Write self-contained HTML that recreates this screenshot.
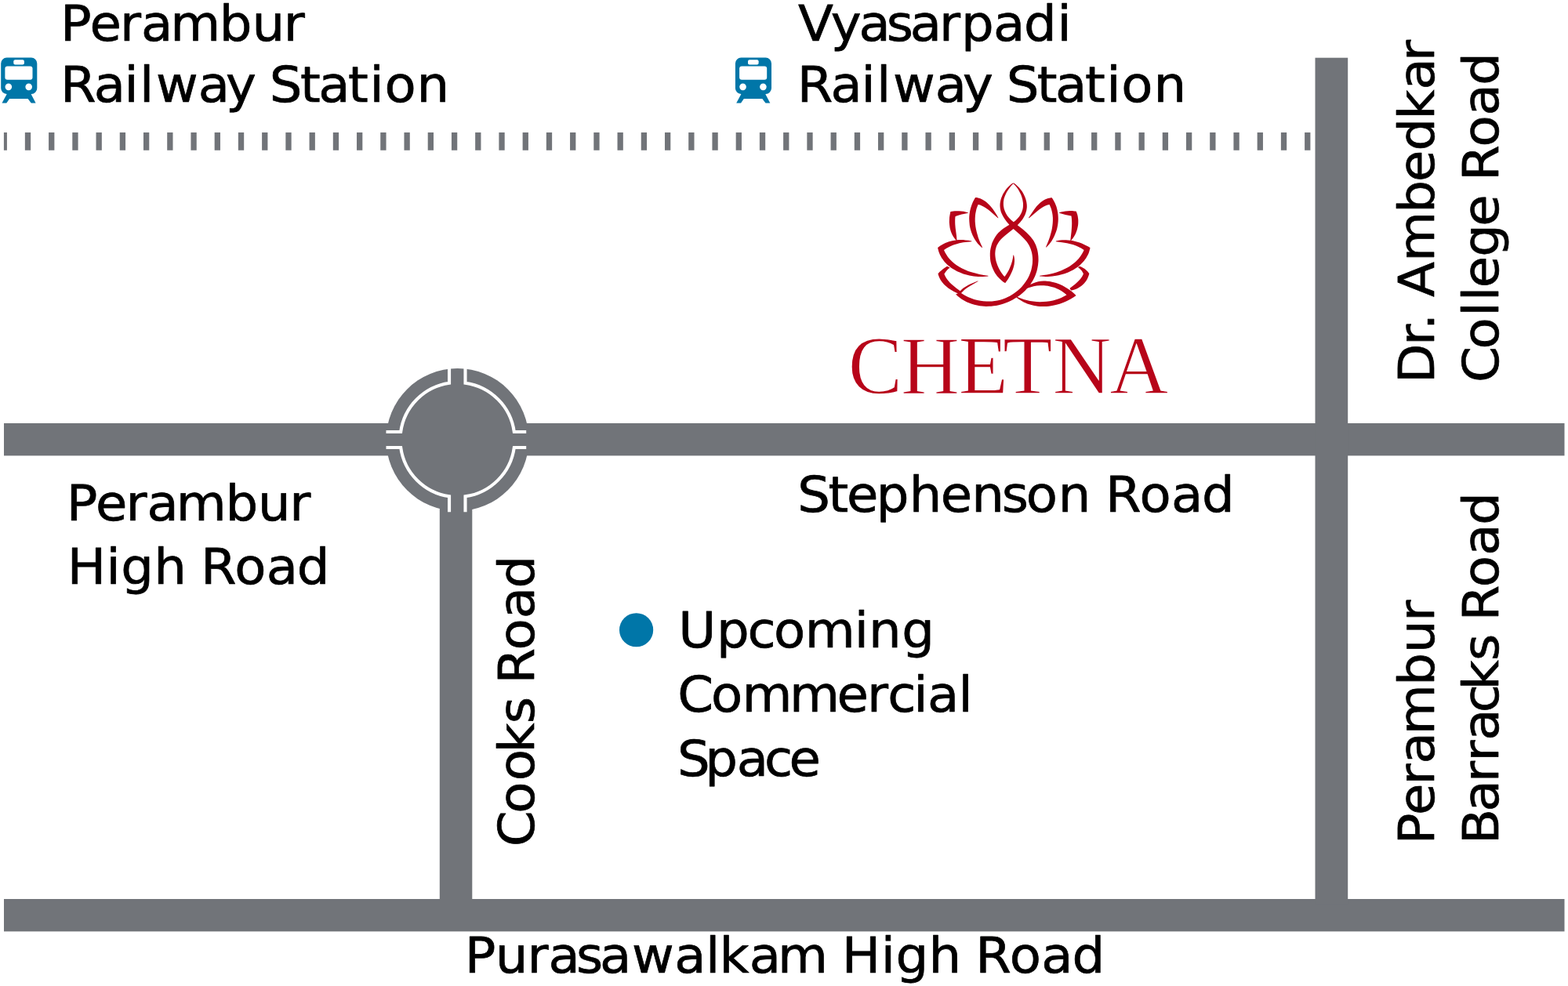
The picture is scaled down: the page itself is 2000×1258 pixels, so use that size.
<!DOCTYPE html>
<html lang="en">
<head>
<meta charset="utf-8">
<title>Chetna location map</title>
<style>
html,body{margin:0;padding:0;background:#fff}
body{width:2000px;height:1258px;overflow:hidden}
svg{display:block}
</style>
</head>
<body>
<svg width="2000" height="1258" viewBox="0 0 2000 1258">
<rect width="2000" height="1258" fill="#fff"/>
<g fill="#717479">
<rect x="5" y="540" width="1990.5" height="41.4"/>
<rect x="5" y="1147" width="1990.5" height="41.4"/>
<rect x="1677.5" y="73.7" width="41.7" height="1080"/>
<rect x="560.8" y="600" width="41.5" height="550"/>
<circle cx="583.5" cy="561" r="91"/>
<path d="M4.9 169H8.92V191.8H4.9ZM31.85 169H39.15V191.8H31.85ZM62.08 169H69.38V191.8H62.08ZM92.3 169H99.6V191.8H92.3ZM122.53 169H129.83V191.8H122.53ZM152.76 169H160.06V191.8H152.76ZM182.99 169H190.29V191.8H182.99ZM213.21 169H220.51V191.8H213.21ZM243.44 169H250.74V191.8H243.44ZM273.67 169H280.97V191.8H273.67ZM303.89 169H311.19V191.8H303.89ZM334.12 169H341.42V191.8H334.12ZM364.35 169H371.65V191.8H364.35ZM394.57 169H401.87V191.8H394.57ZM424.8 169H432.1V191.8H424.8ZM455.03 169H462.33V191.8H455.03ZM485.25 169H492.55V191.8H485.25ZM515.48 169H522.78V191.8H515.48ZM545.71 169H553.01V191.8H545.71ZM575.94 169H583.24V191.8H575.94ZM606.16 169H613.46V191.8H606.16ZM636.39 169H643.69V191.8H636.39ZM666.62 169H673.92V191.8H666.62ZM696.84 169H704.14V191.8H696.84ZM727.07 169H734.37V191.8H727.07ZM757.3 169H764.6V191.8H757.3ZM787.52 169H794.82V191.8H787.52ZM817.75 169H825.05V191.8H817.75ZM847.98 169H855.28V191.8H847.98ZM878.21 169H885.51V191.8H878.21ZM908.43 169H915.73V191.8H908.43ZM938.66 169H945.96V191.8H938.66ZM968.89 169H976.19V191.8H968.89ZM999.11 169H1006.41V191.8H999.11ZM1029.34 169H1036.64V191.8H1029.34ZM1059.57 169H1066.87V191.8H1059.57ZM1089.79 169H1097.09V191.8H1089.79ZM1120.02 169H1127.32V191.8H1120.02ZM1150.25 169H1157.55V191.8H1150.25ZM1180.48 169H1187.78V191.8H1180.48ZM1210.7 169H1218V191.8H1210.7ZM1240.93 169H1248.23V191.8H1240.93ZM1271.16 169H1278.46V191.8H1271.16ZM1301.38 169H1308.68V191.8H1301.38ZM1331.61 169H1338.91V191.8H1331.61ZM1361.84 169H1369.14V191.8H1361.84ZM1392.07 169H1399.37V191.8H1392.07ZM1422.29 169H1429.59V191.8H1422.29ZM1452.52 169H1459.82V191.8H1452.52ZM1482.75 169H1490.05V191.8H1482.75ZM1512.97 169H1520.27V191.8H1512.97ZM1543.2 169H1550.5V191.8H1543.2ZM1573.43 169H1580.73V191.8H1573.43ZM1603.65 169H1610.95V191.8H1603.65ZM1633.88 169H1641.18V191.8H1633.88ZM1664.11 169H1671.41V191.8H1664.11Z"/>
</g>
<path d="M573.05 468.5V488.75A73.0 73.0 0 0 0 511.19 551H492.5M593.5 468.5V488.69A73.0 73.0 0 0 1 655.81 551H671.2M573.05 653.2V633.25A73.0 73.0 0 0 1 511.19 571H492.5M593.5 653.2V633.31A73.0 73.0 0 0 0 655.81 571H671.2" fill="none" stroke="#fff" stroke-width="4.1" stroke-linejoin="miter" stroke-miterlimit="10"/>
<g transform="translate(0 0)"><path fill="#0076a8" d="M8.6 73.6H39.9A7.4 7.4 0 0 1 47.3 81V112.6A7.4 7.4 0 0 1 39.9 120H39.6L45.6 131.4H39.8L35.6 125.9H12.1L8.3 131.4H2.5L8.7 120H8.6A7.4 7.4 0 0 1 1.2 112.6V81A7.4 7.4 0 0 1 8.6 73.6Z"/><g fill="#fff"><rect x="17.3" y="76.3" width="13.6" height="6.3" rx="2" ry="2"/><rect x="6.4" y="84.4" width="35.1" height="17.3" rx="3" ry="3"/><circle cx="10.85" cy="110.85" r="4.3"/><circle cx="36.7" cy="110.85" r="4.3"/></g></g>
<g transform="translate(936.7 0)"><path fill="#0076a8" d="M8.6 73.6H39.9A7.4 7.4 0 0 1 47.3 81V112.6A7.4 7.4 0 0 1 39.9 120H39.6L45.6 131.4H39.8L35.6 125.9H12.1L8.3 131.4H2.5L8.7 120H8.6A7.4 7.4 0 0 1 1.2 112.6V81A7.4 7.4 0 0 1 8.6 73.6Z"/><g fill="#fff"><rect x="17.3" y="76.3" width="13.6" height="6.3" rx="2" ry="2"/><rect x="6.4" y="84.4" width="35.1" height="17.3" rx="3" ry="3"/><circle cx="10.85" cy="110.85" r="4.3"/><circle cx="36.7" cy="110.85" r="4.3"/></g></g>
<circle cx="811.6" cy="803.75" r="21.6" fill="#0076a8"/>
<path fill="#b70419" fill-rule="evenodd" d="M1365.3 306.7L1362.5 306.4L1359.6 306.2L1356.8 306.2L1354.7 306.3L1351.9 306.6L1349.1 307.1L1347.0 307.6L1346.8 307.7L1346.8 307.9L1346.9 308.2L1347.1 308.2L1354.7 309.2L1361.0 310.3L1365.1 311.2L1369.1 312.3L1373.1 313.7L1376.2 315.2L1379.3 316.8L1381.1 317.9L1382.6 319.0L1381.2 322.0L1379.4 325.0L1377.9 327.3L1375.8 330.0L1373.9 332.0L1371.9 334.0L1369.8 335.8L1367.1 337.8L1364.8 339.4L1361.8 341.2L1359.3 342.5L1356.2 344.1L1353.6 345.2L1350.2 346.4L1347.5 347.4L1344.1 348.4L1340.0 349.4L1335.2 350.5L1331.1 351.1L1326.3 351.8L1326.1 352.0L1326.1 352.2L1326.2 352.4L1326.4 352.4L1327.7 352.6L1331.1 352.8L1333.8 352.9L1336.6 352.9L1339.4 352.7L1342.2 352.5L1347.2 351.8L1350.1 351.2L1352.9 350.6L1357.7 349.2L1362.4 347.4L1367.0 345.3L1369.5 343.9L1371.3 342.8L1374.8 340.4L1376.9 338.7L1378.5 337.3L1381.4 334.3L1382.8 332.8L1384.0 331.1L1385.2 329.4L1386.3 327.6L1387.3 325.8L1388.2 323.9L1389.0 321.9L1389.6 319.8L1390.2 317.7L1390.5 316.1L1390.4 315.9L1388.0 314.5L1384.8 312.9L1382.3 311.7L1379.7 310.6L1377.0 309.6L1374.3 308.7L1371.5 307.9L1368.8 307.3L1366.1 306.8L1367.7 305.0L1369.3 302.7L1370.4 300.9L1371.8 298.4L1372.6 296.4L1373.6 293.7L1374.2 291.6L1374.8 288.7L1375.2 285.9L1375.3 283.7L1375.3 280.8L1375.1 278.7L1374.7 275.9L1374.2 273.8L1373.5 271.7L1372.7 269.7L1372.4 269.6L1371.0 269.4L1367.4 269.1L1364.6 269.1L1361.7 269.3L1358.9 269.6L1356.1 270.0L1353.3 270.6L1351.1 271.2L1351.0 271.4L1351.0 271.7L1351.9 272.0L1358.9 273.9L1366.5 275.5L1366.9 278.8L1367.1 281.6L1367.2 285.1L1367.1 288.6L1366.6 295.6ZM1387.4 346.6L1385.8 345.0L1383.6 343.1L1381.8 341.9L1379.2 340.5L1377.0 339.7L1376.8 339.7L1375.2 341.0L1375.2 341.2L1375.3 341.5L1376.5 342.3L1377.6 343.2L1378.6 344.2L1379.6 345.3L1380.7 347.0L1381.4 348.3L1381.9 349.5L1380.7 351.9L1379.6 353.7L1378.0 356.0L1376.1 358.1L1374.1 360.1L1371.4 362.5L1364.6 367.8L1364.6 368.0L1364.6 368.2L1366.2 370.4L1366.5 370.5L1367.9 370.3L1370.6 369.5L1372.7 368.7L1375.2 367.5L1377.1 366.3L1379.4 364.7L1381.1 363.3L1383.1 361.2L1384.5 359.5L1385.3 358.4L1386.8 355.9L1388.0 353.3L1389.0 350.6L1389.3 349.2L1389.3 349.0ZM1197.0 351.3L1198.1 354.0L1198.7 355.3L1199.7 357.2L1201.7 360.1L1204.0 362.7L1205.6 364.2L1207.7 366.1L1209.4 367.4L1211.7 369.0L1214.2 370.5L1216.7 371.9L1221.9 374.5L1219.4 375.2L1219.2 375.4L1219.2 375.6L1221.5 377.7L1224.4 380.0L1226.7 381.7L1229.8 383.5L1232.9 385.2L1236.1 386.6L1239.4 387.8L1242.8 388.8L1246.2 389.6L1249.6 390.2L1252.4 390.6L1255.1 390.8L1257.9 390.9L1261.4 390.8L1264.2 390.7L1267.7 390.3L1270.5 389.9L1273.9 389.2L1276.7 388.5L1280.0 387.5L1282.7 386.5L1286.0 385.2L1289.2 383.8L1291.7 382.5L1294.1 381.1L1296.7 379.6L1298.4 380.9L1300.8 382.6L1303.2 384.0L1305.7 385.4L1307.6 386.3L1310.2 387.4L1312.8 388.3L1315.5 389.1L1318.2 389.8L1321.0 390.3L1323.7 390.7L1326.5 390.9L1329.3 391.0L1332.1 391.0L1335.0 390.9L1337.8 390.7L1342.0 390.1L1346.8 389.1L1351.6 387.7L1356.3 386.1L1360.9 384.1L1365.2 381.8L1369.4 379.3L1372.3 377.3L1372.4 377.1L1372.3 376.8L1370.3 374.8L1366.6 371.6L1362.6 368.7L1358.9 366.4L1355.1 364.3L1351.2 362.6L1347.1 361.1L1343.0 359.9L1338.9 359.1L1335.4 358.7L1333.3 358.6L1331.2 358.6L1327.7 358.8L1324.3 359.3L1320.9 360.2L1317.5 361.4L1314.2 363.0L1315.7 360.6L1317.2 358.3L1318.5 355.8L1319.4 353.9L1320.6 351.3L1321.5 348.7L1322.4 345.9L1322.9 343.9L1323.5 341.0L1324.0 338.2L1324.3 335.3L1324.5 333.1L1324.5 330.2L1324.4 327.3L1324.1 324.4L1323.8 322.3L1323.3 319.5L1322.8 317.4L1321.9 314.7L1321.2 312.8L1320.0 310.2L1319.1 308.4L1318.0 306.6L1316.4 304.4L1315.1 302.8L1313.3 300.7L1311.4 298.7L1309.4 296.7L1304.6 292.6L1297.8 287.3L1301.1 283.8L1303.7 280.5L1304.9 278.7L1305.9 277.0L1307.5 273.9L1308.6 270.8L1309.2 268.8L1309.4 267.5L1309.7 265.5L1309.8 264.2L1309.8 262.8L1309.7 260.7L1309.2 257.2L1308.6 255.1L1308.0 253.0L1307.2 251.0L1306.3 249.0L1305.3 247.0L1304.2 245.1L1303.0 243.2L1301.6 241.4L1300.2 239.7L1298.7 238.2L1297.1 236.7L1295.5 235.3L1293.8 234.1L1292.5 233.4L1292.3 233.4L1291.6 233.8L1289.8 235.1L1288.1 236.5L1286.5 238.0L1285.0 239.6L1283.5 241.3L1282.2 243.0L1281.0 244.9L1279.8 246.7L1278.8 248.7L1277.4 252.0L1276.7 254.0L1276.2 256.0L1275.6 259.4L1275.5 261.5L1275.5 262.8L1275.6 264.2L1275.8 266.1L1276.5 269.4L1277.1 271.2L1277.9 273.1L1279.4 276.1L1281.6 279.6L1284.1 283.0L1287.4 286.8L1283.0 289.6L1279.9 291.6L1277.6 293.3L1275.4 295.2L1273.4 297.1L1271.5 299.3L1269.9 301.5L1268.1 304.4L1266.8 306.9L1265.4 310.1L1264.4 313.4L1263.6 316.7L1263.1 319.5L1262.8 322.9L1262.8 326.4L1263.0 329.9L1263.3 332.7L1263.7 334.7L1264.4 337.5L1265.0 339.5L1266.0 342.1L1266.9 344.0L1268.1 346.6L1269.2 348.4L1270.8 350.7L1272.1 352.4L1274.0 354.6L1275.5 356.1L1277.7 358.1L1279.4 359.4L1281.9 361.1L1282.1 361.1L1282.3 361.1L1283.9 358.8L1285.9 355.9L1287.3 353.4L1288.7 350.9L1290.0 348.3L1290.9 346.3L1291.9 343.7L1292.6 341.6L1293.1 339.6L1293.6 337.5L1293.8 335.4L1294.0 333.3L1294.0 331.2L1293.8 329.1L1293.4 327.0L1293.0 325.6L1292.9 325.4L1292.7 325.4L1292.5 325.4L1292.4 325.6L1291.9 329.2L1291.0 333.3L1289.8 337.3L1288.2 341.3L1286.8 344.5L1285.1 347.5L1283.2 350.5L1281.4 353.1L1279.9 351.4L1278.6 349.8L1277.0 347.5L1275.9 345.7L1274.5 343.2L1273.5 341.2L1272.3 338.6L1271.6 336.5L1270.9 334.4L1270.3 332.3L1269.9 330.2L1269.6 328.0L1269.4 325.9L1269.3 323.8L1269.4 321.8L1269.6 319.8L1269.8 318.5L1270.3 316.5L1270.9 314.6L1271.6 312.8L1272.2 311.7L1273.2 310.0L1274.3 308.3L1275.5 306.8L1276.8 305.2L1278.3 303.8L1281.4 301.0L1284.1 298.7L1292.6 291.9L1300.6 299.1L1303.7 301.9L1307.1 305.4L1309.7 308.6L1311.2 310.8L1312.3 312.6L1313.2 314.3L1314.1 316.2L1314.8 318.1L1315.4 320.0L1316.0 322.0L1316.4 324.0L1316.7 326.1L1317.0 328.9L1317.1 331.0L1317.0 333.8L1316.9 335.9L1316.5 338.7L1316.0 341.5L1315.4 344.3L1314.8 346.3L1313.8 348.9L1312.8 351.5L1311.6 354.0L1310.2 356.4L1308.7 358.8L1307.1 361.1L1305.4 363.3L1303.2 365.9L1300.7 368.4L1298.1 370.7L1294.8 373.3L1292.0 375.3L1288.4 377.5L1285.3 379.0L1282.1 380.4L1278.8 381.7L1275.5 382.7L1272.1 383.5L1268.7 384.0L1265.2 384.4L1261.8 384.6L1258.3 384.6L1254.2 384.3L1250.7 383.8L1246.6 383.0L1242.6 381.9L1239.3 380.8L1235.4 379.2L1232.3 377.7L1229.2 376.0L1226.0 373.9L1227.2 372.7L1228.7 371.2L1230.2 369.8L1232.4 368.1L1234.7 366.5L1237.1 365.0L1247.4 359.0L1247.5 358.7L1247.4 358.4L1247.1 358.4L1238.6 362.1L1235.4 363.6L1232.9 365.0L1230.4 366.5L1228.1 368.1L1226.5 369.5L1224.7 371.3L1219.9 367.8L1216.6 365.1L1213.9 362.8L1211.5 360.4L1209.2 357.8L1207.5 355.5L1206.1 353.2L1204.9 350.7L1204.4 349.5L1205.4 347.9L1206.7 346.2L1208.1 344.6L1209.6 343.1L1211.4 341.7L1211.4 341.5L1211.3 341.2L1208.3 339.7L1208.0 339.7L1204.9 341.7L1202.5 343.5L1200.8 344.9L1198.6 346.8L1196.6 348.9L1196.5 349.2ZM1297.6 378.9L1301.1 376.4L1304.4 373.8L1307.4 370.9L1310.1 368.0L1312.3 367.1L1314.3 366.4L1318.4 365.3L1322.5 364.6L1326.7 364.2L1328.8 364.2L1331.6 364.3L1333.7 364.5L1336.5 364.8L1339.3 365.4L1341.3 365.9L1345.4 367.1L1348.0 368.2L1349.9 369.0L1353.6 371.0L1357.1 373.4L1358.7 374.7L1360.5 376.2L1357.3 378.1L1353.5 379.9L1350.3 381.3L1346.3 382.6L1343.0 383.5L1338.9 384.3L1334.7 384.8L1330.6 385.1L1326.4 385.2L1322.2 385.0L1318.0 384.5L1313.8 383.9L1309.7 383.0L1305.7 381.9L1302.4 380.8L1297.8 379.0ZM1292.4 234.2L1295.0 236.8L1296.4 238.4L1297.6 240.1L1298.8 241.8L1299.9 243.7L1301.6 247.0L1302.5 249.0L1303.2 251.0L1304.2 254.5L1304.8 258.0L1305.0 260.1L1305.0 261.4L1304.9 264.1L1304.7 265.4L1304.3 267.4L1303.9 268.6L1303.3 270.5L1302.7 271.7L1301.8 273.4L1300.1 276.2L1297.9 278.8L1295.5 281.2L1292.8 283.3L1289.5 280.5L1287.1 278.1L1285.0 275.4L1283.2 272.6L1281.8 269.5L1280.7 266.4L1280.1 263.2L1279.9 261.2L1279.9 259.9L1279.9 257.9L1280.1 256.5L1280.5 253.8L1280.9 252.5L1281.6 250.5L1283.0 247.2L1284.0 245.2L1285.2 243.3L1287.7 239.7L1289.4 237.5L1291.7 234.9ZM1338.4 252.7L1336.9 253.1L1334.8 253.7L1333.5 254.3L1331.6 255.3L1330.4 256.0L1328.6 257.2L1327.0 258.5L1325.4 260.0L1323.9 261.5L1322.4 263.1L1319.7 266.5L1316.8 270.7L1312.1 277.7L1312.1 277.9L1312.1 278.1L1312.2 278.2L1312.4 278.2L1312.6 278.2L1322.9 269.4L1325.7 267.2L1328.6 265.2L1331.0 263.8L1333.5 262.6L1336.1 261.6L1338.6 260.9L1339.9 263.9L1340.9 266.5L1341.6 269.2L1342.2 271.9L1342.6 274.6L1342.9 278.1L1342.9 281.5L1342.7 285.0L1342.4 287.8L1341.9 291.3L1341.2 294.7L1340.3 298.1L1339.1 302.2L1337.7 306.2L1335.9 310.8L1334.0 315.2L1334.0 315.5L1334.3 315.6L1334.5 315.6L1335.1 315.1L1337.0 313.0L1338.4 311.4L1340.1 309.2L1341.4 307.4L1342.8 305.0L1343.9 303.1L1345.1 300.6L1346.7 296.6L1347.6 293.9L1348.2 291.9L1348.8 289.1L1349.2 287.0L1349.5 284.2L1349.7 282.0L1349.8 279.2L1349.7 276.3L1349.5 273.5L1349.2 271.4L1348.7 268.6L1348.2 266.5L1347.5 263.8L1346.7 261.8L1345.7 259.2L1344.4 256.7L1343.0 254.2L1341.7 252.3L1341.5 252.3L1340.7 252.3ZM1243.0 253.8L1241.0 257.5L1239.4 261.4L1238.1 265.5L1237.1 269.6L1236.5 273.8L1236.3 276.0L1236.2 278.8L1236.4 283.1L1236.8 287.4L1237.3 290.2L1237.8 292.2L1239.0 296.3L1240.6 300.3L1242.5 304.0L1243.6 305.8L1244.7 307.6L1246.0 309.3L1247.3 310.9L1248.8 312.5L1250.3 314.0L1252.5 315.9L1252.7 315.9L1253.0 315.8L1253.0 315.5L1250.9 311.1L1249.3 307.2L1247.8 303.2L1246.6 299.1L1245.7 295.7L1244.9 292.3L1244.3 288.8L1244.0 286.0L1243.7 282.5L1243.7 279.0L1243.9 275.5L1244.2 272.8L1244.9 269.3L1245.5 266.6L1246.4 263.9L1247.6 260.9L1250.1 261.6L1252.7 262.7L1255.2 264.0L1257.6 265.4L1260.5 267.4L1263.3 269.7L1272.9 278.2L1273.1 278.2L1273.3 278.2L1273.4 278.1L1273.4 277.9L1271.2 274.1L1268.9 270.5L1266.9 267.5L1265.2 265.2L1263.3 263.0L1261.4 260.9L1259.3 258.9L1257.7 257.5L1255.4 255.9L1252.9 254.5L1250.3 253.3L1247.5 252.4L1246.0 252.1L1244.3 251.9L1244.1 252.0ZM1196.8 319.1L1197.4 321.2L1198.2 323.2L1199.0 325.2L1200.0 327.1L1201.0 328.9L1202.2 330.6L1203.4 332.3L1204.7 333.9L1207.6 336.9L1209.1 338.4L1211.3 340.1L1212.9 341.4L1215.3 343.0L1217.1 344.1L1219.6 345.5L1221.5 346.4L1224.1 347.6L1228.8 349.4L1233.7 350.8L1236.5 351.4L1239.3 352.0L1242.1 352.4L1245.0 352.7L1247.8 352.9L1250.6 353.0L1253.4 353.0L1256.9 352.8L1260.2 352.4L1260.5 352.3L1260.5 351.9L1260.3 351.8L1254.8 351.0L1249.4 350.0L1243.9 348.6L1239.1 347.3L1235.0 345.9L1231.1 344.3L1227.2 342.5L1223.6 340.5L1220.0 338.2L1217.3 336.2L1214.2 333.5L1211.7 331.1L1209.1 327.9L1207.2 325.1L1205.4 322.0L1204.0 319.0L1207.3 316.8L1211.1 314.7L1214.9 313.0L1216.9 312.3L1219.6 311.4L1223.7 310.3L1228.5 309.3L1233.5 308.7L1239.1 308.2L1239.4 308.1L1239.4 307.8L1239.2 307.6L1235.1 306.8L1231.6 306.4L1228.7 306.1L1225.9 306.1L1223.0 306.1L1220.5 306.3L1220.1 301.6L1218.7 291.1L1218.3 286.2L1218.2 283.4L1218.2 280.6L1218.3 278.5L1218.6 275.9L1222.4 274.7L1226.5 273.6L1230.5 272.7L1234.7 271.8L1234.9 271.7L1234.9 271.5L1234.9 271.3L1234.8 271.2L1231.9 270.4L1229.1 269.8L1226.2 269.4L1223.4 269.2L1220.5 269.2L1217.7 269.3L1214.1 269.7L1212.6 270.0L1212.4 270.1L1211.9 272.2L1211.4 275.0L1211.0 277.8L1210.9 280.6L1210.8 283.5L1211.0 285.7L1211.3 288.6L1211.6 290.7L1212.3 293.5L1212.9 295.5L1213.7 297.5L1214.6 299.4L1215.6 301.3L1216.7 303.1L1218.0 304.8L1219.5 306.4L1217.4 306.7L1214.6 307.2L1210.4 308.3L1207.8 309.2L1205.8 310.0L1203.9 310.9L1202.0 311.9L1199.0 313.8L1196.1 316.0L1196.1 316.3Z"/>
<g font-family="'DejaVu Sans', 'Liberation Sans', sans-serif" font-size="63.2" fill="#000" stroke="#000" stroke-width="0.7" stroke-linejoin="round" text-rendering="geometricPrecision">
<text transform="scale(1.04 1)" x="74.15 110.09 147.14 173.08 208.85 269.1 309.15 347.91" y="51.9">Perambur</text>
<text transform="scale(1.04 1)" x="74.04 115.12 152.51 171.27 191.41 243.1 276.99 313.52 330.57 368.26 390.52 426.98 453.33 471.59 511.08" y="129.8">Railway Station</text>
<text transform="scale(1.04 1)" x="978.8 1018.95 1053.46 1087.18 1116.01 1151.98 1178.87 1218.18 1255.74 1296.54" y="51.9">Vyasarpadi</text>
<text transform="scale(1.04 1)" x="977.69 1018.78 1056.19 1074.95 1095.09 1146.8 1180.69 1217.22 1234.27 1271.96 1294.22 1330.71 1357.06 1375.32 1414.82" y="129.8">Railway Station</text>
<text transform="scale(1.04 1)" x="978.14 1015.83 1038.4 1074.88 1115.17 1153.68 1191.52 1228.66 1258.41 1297.95 1338.24 1355.78 1397.49 1436.54 1474.09" y="652.5">Stephenson Road</text>
<text transform="scale(1.04 1)" x="81.45 117.38 154.42 180.35 216.1 276.34 316.38 355.12" y="663.6">Perambur</text>
<text transform="scale(1.04 1)" x="82.43 130.42 148.37 188.75 228.54 246.05 287.7 326.7 364.21" y="745.4">High Road</text>
<text transform="scale(1.04 1)" x="831.89 878.81 916.93 949.17 987.24 1047.96 1065.44 1105.99" y="825.9">Upcoming</text>
<text transform="scale(1.04 1)" x="831.07 872.1 910.04 968.22 1026.51 1063.36 1088.64 1120.56 1137.49 1175.59" y="908.4">Commercial</text>
<text transform="scale(1.04 1)" x="830.79 864.73 903.61 937.62 967.75" y="990.3">Space</text>
<text transform="scale(1.04 1)" x="569.97 607.39 646.7 672.66 706.65 735.48 774.93 827.07 865.37 882.3 919.09 953.86 1014.78 1032.46 1080.52 1098.53 1139 1178.84 1196.4 1238.17 1277.26 1314.84" y="1240.7">Purasawalkam High Road</text>
<text transform="translate(680.8 1076.9) rotate(-90) scale(1.04 1)" x="-3.21 37.71 77.66 111.98 147.76 179.08 196.44 237.84 276.48 313.74" y="0">Cooks Road</text>
<text transform="translate(1829 482.85) rotate(-90) scale(1.04 1)" x="-5.87 40.41 59.54 78.96 99.96 143.25 202.95 241.15 279.08 317.74 354.14 389.4" y="0">Dr. Ambedkar</text>
<text transform="translate(1911.3 484.7) rotate(-90) scale(1.04 1)" x="-3.21 37.69 78.19 96.82 112.91 150.86 188.34 226.94 244.29 285.68 324.29 361.53" y="0">College Road</text>
<text transform="translate(1829 1071.3) rotate(-90) scale(1.04 1)" x="-5.77 30.15 67.18 93.1 128.84 189.06 229.08 267.81" y="0">Perambur</text>
<text transform="translate(1911.4 1071) rotate(-90) scale(1.04 1)" x="-5.87 34.09 70.19 95.69 121.49 155.61 183.49 219.27 250.6 268.02 309.47 348.34 385.71" y="0">Barracks Road</text>
</g>
<text transform="scale(0.975 1)" x="1109.51 1178.53 1253.95 1311.93 1376.86 1451.61" y="501.9" font-family="'Liberation Serif', serif" font-size="106.6" fill="#b70419" stroke="#fff" stroke-width="1.3" stroke-linejoin="miter">CHETNA</text>
</svg>
</body>
</html>
